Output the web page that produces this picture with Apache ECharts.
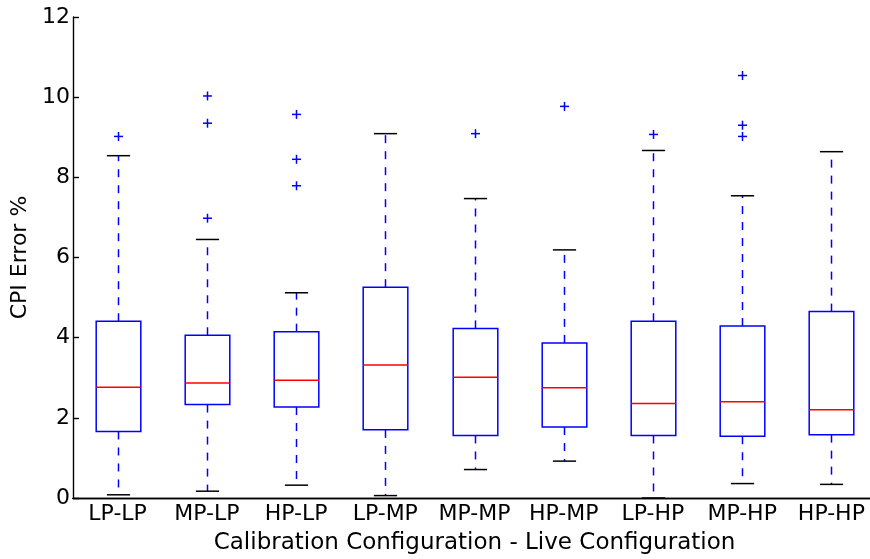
<!DOCTYPE html>
<html>
<head>
<meta charset="utf-8">
<script src="https://cdn.jsdelivr.net/npm/echarts@6/dist/echarts.min.js"></script>
<style>html,body{margin:0;padding:0;background:#fff;}#c{width:870px;height:559px;}</style>
</head>
<body>
<div id="c"></div>
<script>
var categories = ['LP-LP','MP-LP','HP-LP','LP-MP','MP-MP','HP-MP','LP-HP','MP-HP','HP-HP'];
var whiskerLow  = [0.08, 0.17, 0.32, 0.06, 0.71, 0.92, 0.00, 0.36, 0.34];
var q1          = [1.66, 2.33, 2.27, 1.70, 1.56, 1.77, 1.56, 1.54, 1.58];
var medians     = [2.76, 2.87, 2.94, 3.32, 3.01, 2.75, 2.36, 2.40, 2.20];
var q3          = [4.41, 4.06, 4.15, 5.26, 4.23, 3.87, 4.41, 4.29, 4.65];
var whiskerHigh = [8.54, 6.45, 5.12, 9.09, 7.47, 6.19, 8.67, 7.54, 8.64];
var outliers = [
  [0, 9.02],
  [1, 10.03], [1, 9.35], [1, 6.98],
  [2, 9.57], [2, 8.45], [2, 7.79],
  [4, 9.09],
  [5, 9.77],
  [6, 9.07],
  [7, 10.54], [7, 9.30], [7, 9.02]
];
var yTicks = [0, 2, 4, 6, 8, 10, 12];

var boxData = categories.map(function (c, i) {
  return [i, whiskerLow[i], q1[i], medians[i], q3[i], whiskerHigh[i]];
});

var chart = echarts.init(document.getElementById('c'), null, {renderer: 'canvas'});
var FONT = 'DejaVu Sans';
var BLUE = '#0000ff';
var LW = 1.5;

function renderBox(params, api) {
  var i = api.value(0);
  var band = api.size([1, 0])[0];
  var bw = band * 0.5, cw = band * 0.26;
  var pLow = api.coord([i, api.value(1)]);
  var pQ1 = api.coord([i, api.value(2)]);
  var pMed = api.coord([i, api.value(3)]);
  var pQ3 = api.coord([i, api.value(4)]);
  var pHigh = api.coord([i, api.value(5)]);
  var x = Math.round(pQ1[0]) + 0.5;
  return {
    type: 'group',
    children: [
      {type: 'line', shape: {x1: x, y1: pQ1[1], x2: x, y2: pLow[1]},
        style: {stroke: BLUE, lineWidth: LW, lineDash: [8, 8]}},
      {type: 'line', shape: {x1: x, y1: pQ3[1], x2: x, y2: pHigh[1]},
        style: {stroke: BLUE, lineWidth: LW, lineDash: [8, 8]}},
      {type: 'line', shape: {x1: x - cw / 2, y1: pLow[1], x2: x + cw / 2, y2: pLow[1]},
        style: {stroke: '#000', lineWidth: LW}},
      {type: 'line', shape: {x1: x - cw / 2, y1: pHigh[1], x2: x + cw / 2, y2: pHigh[1]},
        style: {stroke: '#000', lineWidth: LW}},
      {type: 'rect', shape: {x: x - bw / 2, y: pQ3[1], width: bw, height: pQ1[1] - pQ3[1]},
        style: {fill: 'none', stroke: BLUE, lineWidth: LW}},
      {type: 'line', shape: {x1: x - bw / 2, y1: pMed[1], x2: x + bw / 2, y2: pMed[1]},
        style: {stroke: '#ff0000', lineWidth: LW}}
    ]
  };
}

function renderPlus(params, api) {
  var p = api.coord([api.value(0), api.value(1)]);
  var h = 4.5;
  var x = Math.round(p[0]) + 0.5;
  return {
    type: 'group',
    children: [
      {type: 'line', shape: {x1: x - h, y1: p[1], x2: x + h, y2: p[1]}, style: {stroke: BLUE, lineWidth: LW}},
      {type: 'line', shape: {x1: x, y1: p[1] - h, x2: x, y2: p[1] + h}, style: {stroke: BLUE, lineWidth: LW}}
    ]
  };
}

var axisLineStyle = {color: '#000', width: 1.4};

chart.setOption({
  animation: false,
  backgroundColor: '#fff',
  grid: {left: 73, top: 17, width: 803, height: 481, containLabel: false, outerBoundsMode: 'none'},
  xAxis: [{
    type: 'category',
    data: categories,
    boundaryGap: true,
    position: 'bottom',
    axisLine: {lineStyle: axisLineStyle},
    axisTick: {inside: true, alignWithLabel: true, interval: 0, length: 6, lineStyle: axisLineStyle},
    axisLabel: {color: '#000', fontFamily: FONT, fontSize: 22, margin: 5, interval: 0, hideOverlap: false},
    splitLine: {show: false},
    name: 'Calibration Configuration - Live Configuration',
    nameLocation: 'middle',
    nameGap: 34,
    nameTextStyle: {color: '#000', fontFamily: FONT, fontSize: 23}
  }, {
    type: 'category',
    data: categories,
    boundaryGap: true,
    position: 'top',
    axisLine: {lineStyle: axisLineStyle},
    axisTick: {inside: true, alignWithLabel: true, interval: 0, length: 6, lineStyle: axisLineStyle},
    axisLabel: {show: false},
    splitLine: {show: false}
  }],
  yAxis: [{
    type: 'value',
    min: yTicks[0],
    max: yTicks[yTicks.length - 1],
    interval: 2,
    position: 'left',
    axisLine: {show: true, lineStyle: axisLineStyle},
    axisTick: {show: true, inside: true, length: 6, lineStyle: axisLineStyle},
    axisLabel: {color: '#000', fontFamily: FONT, fontSize: 22, margin: 3},
    splitLine: {show: false},
    name: 'CPI Error %',
    nameLocation: 'middle',
    nameGap: 36,
    nameTextStyle: {color: '#000', fontFamily: FONT, fontSize: 22}
  }, {
    type: 'value',
    min: yTicks[0],
    max: yTicks[yTicks.length - 1],
    interval: 2,
    position: 'right',
    axisLine: {show: true, lineStyle: axisLineStyle},
    axisTick: {show: true, inside: true, length: 6, lineStyle: axisLineStyle},
    axisLabel: {show: false},
    splitLine: {show: false}
  }],
  series: [{
    type: 'custom',
    renderItem: renderBox,
    data: boxData,
    encode: {x: 0, y: [1, 2, 3, 4, 5]},
    clip: false
  }, {
    type: 'custom',
    renderItem: renderPlus,
    data: outliers,
    encode: {x: 0, y: 1},
    clip: false
  }]
});
</script>
</body>
</html>
